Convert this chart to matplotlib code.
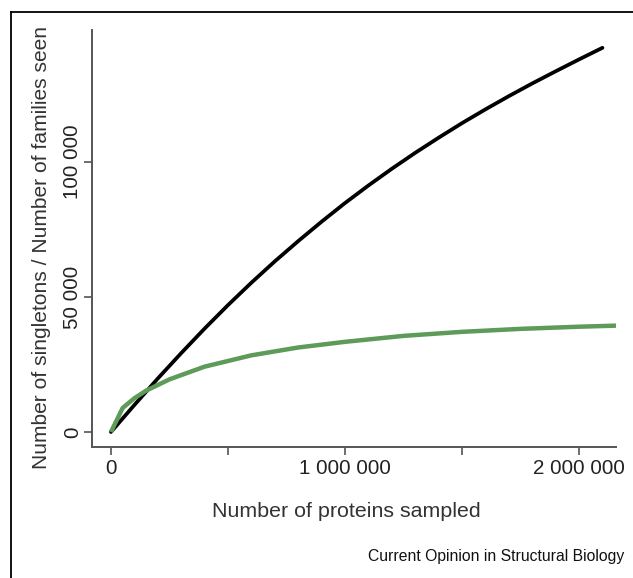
import matplotlib.pyplot as plt
from matplotlib.lines import Line2D

plt.rcParams['font.family'] = ['Liberation Sans', 'DejaVu Sans']

# proteins sampled vs. count
sampled = [0, 50e3, 100e3, 200e3, 300e3, 400e3, 500e3, 600e3, 700e3, 800e3, 900e3,
           1.0e6, 1.1e6, 1.2e6, 1.3e6, 1.4e6, 1.5e6, 1.6e6, 1.7e6, 1.8e6, 1.9e6,
           2.0e6, 2.1e6]
families = [0, 5000, 10000, 19800, 29200, 38300, 47000, 55300, 63200, 70700, 77900,
            84800, 91300, 97500, 103400, 109000, 114400, 119500, 124400, 129100, 133600,
            138000, 142300]

sampled_s = [0, 50e3, 100e3, 150e3, 250e3, 400e3, 600e3, 800e3, 1.0e6, 1.25e6, 1.5e6,
             1.75e6, 2.0e6, 2.16e6]
singletons = [0, 8900, 12500, 15300, 19500, 24200, 28400, 31300, 33400, 35600, 37100,
              38200, 39000, 39400]

xticks = [0, 500000, 1000000, 1500000, 2000000]
xlabels = ['0', '', '1 000 000', '', '2 000 000']
yticks = [0, 50000, 100000]
ylabels = ['0', '50 000', '100 000']

W, H = 633, 578
fig = plt.figure(figsize=(W / 100, H / 100), dpi=100)
ax = fig.add_axes([92 / W, 1 - 447 / H, (616 - 92) / W, (447 - 30) / H])

ax.plot(sampled, families, color='black', lw=2.7, solid_capstyle='round',
        solid_joinstyle='round')
ax.plot(sampled_s, singletons, color='#5e9a58', lw=3.2, solid_capstyle='butt',
        solid_joinstyle='round')

ax.set_xlim(-81000, 2158000)
ax.set_ylim(-5556, 148900)

for s in ['top', 'right']:
    ax.spines[s].set_visible(False)
for s in ['left', 'bottom']:
    ax.spines[s].set_color('#555555')
    ax.spines[s].set_linewidth(1.4)

ax.set_xticks(xticks)
ax.set_xticklabels(xlabels)
ax.set_yticks(yticks)
ax.set_yticklabels(ylabels, rotation=90, va='center')
ax.tick_params(axis='both', direction='out', length=6, width=1.2, color='#555555',
               labelsize=14.8, labelcolor='#222222')
ax.tick_params(axis='x', pad=3)
ax.tick_params(axis='y', pad=1)

ax.set_xlabel('Number of proteins sampled', fontsize=15.4, color='#333333')
ax.xaxis.set_label_coords(0.485, -0.132)
ax.set_ylabel('Number of singletons / Number of families seen', fontsize=15.1,
              color='#333333')
ax.yaxis.set_label_coords(-0.079, 0.478)

fig.text(624 / W, 1 - 557 / H, 'Current Opinion in Structural Biology', fontsize=11.3,
         ha='right', va='center', color='#111111')

# outer frame
fig.add_artist(Line2D([11 / W, 11 / W], [0, 1 - 12 / H], color='black', lw=1.3,
                      transform=fig.transFigure))
fig.add_artist(Line2D([11 / W, 1], [1 - 12 / H, 1 - 12 / H], color='black', lw=1.3,
                      transform=fig.transFigure))

fig.savefig('out.png', dpi=100)
